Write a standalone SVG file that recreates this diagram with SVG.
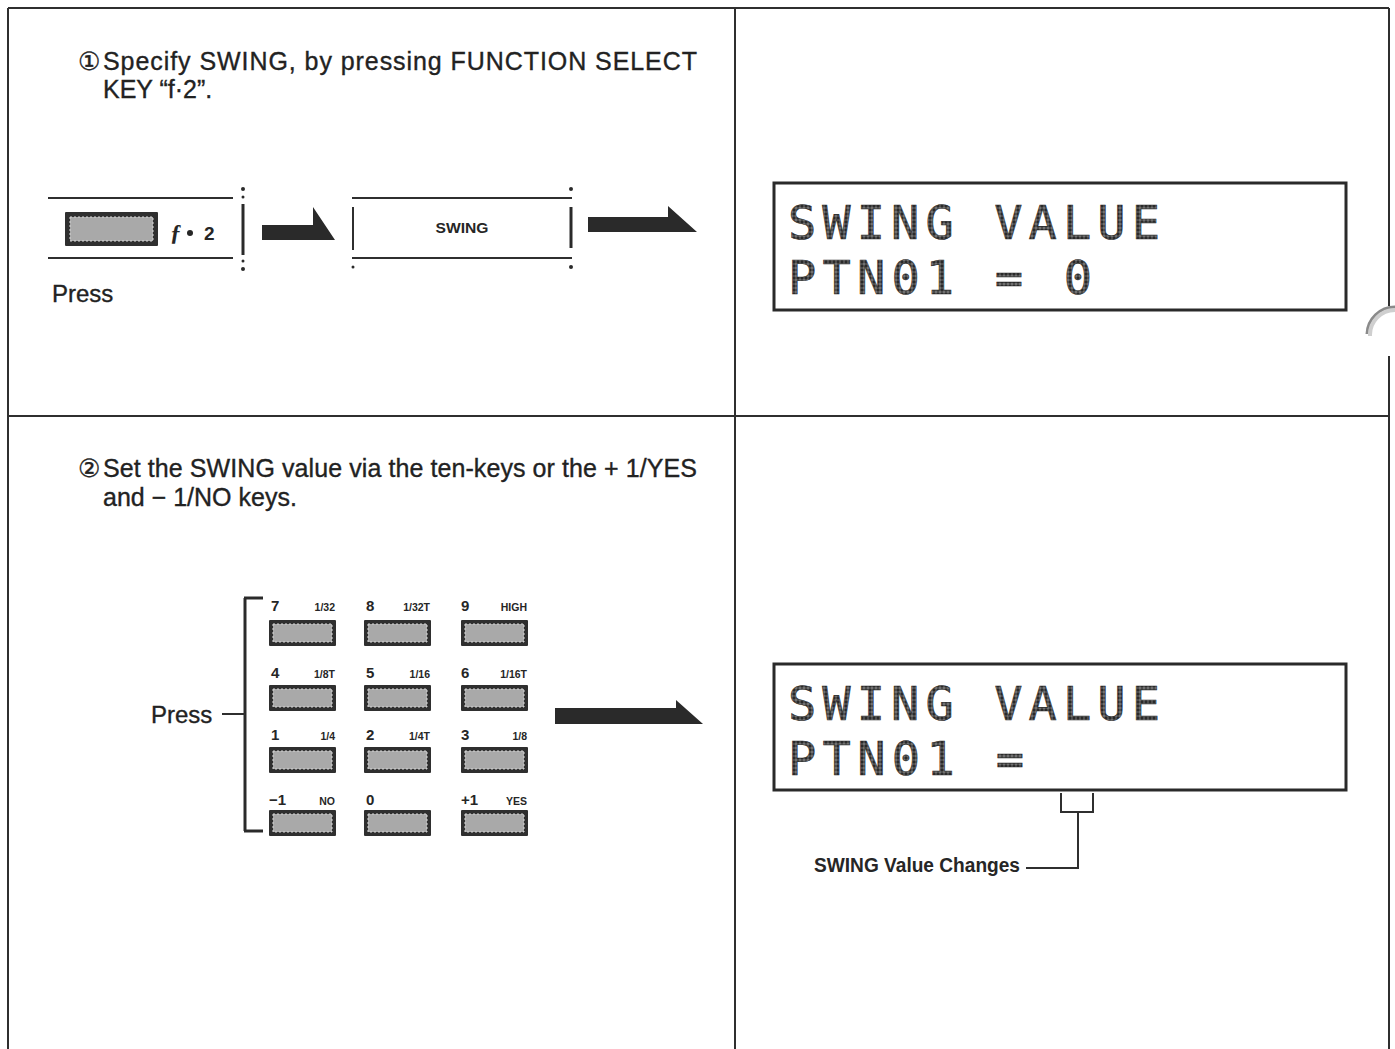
<svg xmlns="http://www.w3.org/2000/svg" width="1395" height="1049" viewBox="0 0 1395 1049">
<defs>
<style>
.frame{stroke:#2f2f2f;stroke-width:2;fill:none}
.ln{stroke:#2f2f2f;stroke-width:2;fill:none}
.heavy{stroke:#2a2a2a;stroke-width:3;fill:none}
.body{font-family:"Liberation Sans",Arial,sans-serif;font-size:25px;fill:#222;stroke:#222;stroke-width:0.35}
.lcd{font-family:"DejaVu Sans Mono","Liberation Mono",monospace;font-size:47px;fill:url(#dots);stroke:#2a2a2a;stroke-width:0.6}
.num{font-family:"Liberation Sans",Arial,sans-serif;font-size:15px;font-weight:bold;fill:#262626}
.sub{font-family:"Liberation Sans",Arial,sans-serif;font-size:10.5px;font-weight:bold;fill:#262626;text-anchor:end}
.arrow{fill:#2a2a2a}
.keyo{fill:#2f2f2f}
.keyi{fill:#a9a9a9;stroke:#d8d8d8;stroke-width:1;stroke-dasharray:2 2}
.lcdbox{fill:none;stroke:#2a2a2a;stroke-width:3}
</style>
<pattern id="dots" x="0" y="0" width="4" height="4" patternUnits="userSpaceOnUse">
<rect width="4" height="4" fill="#777"/>
<circle cx="2" cy="2" r="1.7" fill="#2a2a2a"/>
</pattern>
<g id="key">
<rect class="keyo" x="0" y="0" width="67" height="26" rx="1"/>
<rect class="keyi" x="4" y="4" width="59" height="18"/>
</g>
</defs>
<rect width="1395" height="1049" fill="#ffffff"/>

<g id="frame">
<line class="frame" x1="8" y1="8" x2="1389" y2="8"/>
<line class="frame" x1="8" y1="8" x2="8" y2="1049"/>
<line class="frame" x1="735" y1="8" x2="735" y2="1049"/>
<line class="frame" x1="8" y1="416" x2="1389" y2="416"/>
<line class="frame" x1="1389" y1="8" x2="1389" y2="306"/>
<line class="frame" x1="1389" y1="356" x2="1389" y2="1049"/>
<path d="M1395,307 A28,28 0 0 0 1367,334" fill="none" stroke="#8a8a8a" stroke-width="3"/>
<path d="M1395,310 A25,25 0 0 0 1370,336" fill="none" stroke="#cfcfcf" stroke-width="4"/>
</g>

<g id="step1-text">
<text class="body" x="78" y="70">①</text>
<text class="body" x="103" y="70" textLength="594" lengthAdjust="spacing">Specify SWING, by pressing FUNCTION SELECT</text>
<text class="body" x="103" y="98">KEY “f·2”.</text>
</g>

<g id="f2-key">
<line class="ln" x1="48" y1="198" x2="233" y2="198"/>
<line class="ln" x1="48" y1="258" x2="233" y2="258"/>
<rect class="keyo" x="65" y="212" width="93" height="34" rx="1"/>
<rect class="keyi" x="70" y="217" width="83" height="24"/>
<text x="170" y="240" font-family="Liberation Serif,serif" font-style="italic" font-weight="bold" font-size="23" fill="#262626">ƒ</text>
<circle cx="190" cy="233" r="3" fill="#262626"/>
<text x="204" y="240" font-family="Liberation Sans,Arial,sans-serif" font-weight="bold" font-size="19" fill="#262626">2</text>
<line class="heavy" x1="243" y1="204" x2="243" y2="255"/>
<circle cx="243" cy="189" r="2" fill="#2a2a2a"/>
<circle cx="243" cy="197" r="1.5" fill="#2a2a2a"/>
<circle cx="243" cy="261" r="1.5" fill="#2a2a2a"/>
<circle cx="243" cy="269" r="2" fill="#2a2a2a"/>
<text class="body" x="52" y="302" style="font-size:24px">Press</text>
</g>

<g id="swing-box">
<line class="ln" x1="352" y1="198" x2="572" y2="198"/>
<line class="ln" x1="352" y1="258" x2="572" y2="258"/>
<line class="ln" x1="353" y1="207" x2="353" y2="250"/>
<line class="heavy" x1="571" y1="207" x2="571" y2="248"/>
<circle cx="571" cy="189" r="2" fill="#2a2a2a"/>
<circle cx="353" cy="267" r="1.5" fill="#2a2a2a"/>
<circle cx="571" cy="267" r="2" fill="#2a2a2a"/>
<text x="462" y="233" text-anchor="middle" font-family="Liberation Sans,Arial,sans-serif" font-weight="bold" font-size="15" fill="#262626" textLength="53" lengthAdjust="spacingAndGlyphs">SWING</text>
</g>

<g id="lcd1">
<rect class="lcdbox" x="774" y="183" width="572" height="127"/>
<text class="lcd"><tspan x="788" y="239" textLength="372" lengthAdjust="spacing">SWING VALUE</tspan><tspan x="788" y="294" textLength="304" lengthAdjust="spacing">PTN01 = 0</tspan></text>
</g>

<g id="step2-text">
<text class="body" x="78" y="477">②</text>
<text class="body" x="103" y="477" textLength="594" lengthAdjust="spacing">Set the SWING value via the ten-keys or the + 1/YES</text>
<text class="body" x="103" y="506">and − 1/NO keys.</text>
</g>

<g id="keypad">
<line class="heavy" x1="245" y1="598" x2="245" y2="831"/>
<line class="heavy" x1="244" y1="598" x2="263" y2="598"/>
<line class="heavy" x1="244" y1="831" x2="263" y2="831"/>
<line class="ln" x1="222" y1="714" x2="245" y2="714"/>
<text class="body" x="151" y="723" style="font-size:24px">Press</text>

<text class="num" x="271" y="611">7</text><text class="sub" x="335" y="611">1/32</text>
<text class="num" x="366" y="611">8</text><text class="sub" x="430" y="611">1/32T</text>
<text class="num" x="461" y="611">9</text><text class="sub" x="527" y="611">HIGH</text>
<use href="#key" x="269" y="620"/><use href="#key" x="364" y="620"/><use href="#key" x="461" y="620"/>

<text class="num" x="271" y="678">4</text><text class="sub" x="335" y="678">1/8T</text>
<text class="num" x="366" y="678">5</text><text class="sub" x="430" y="678">1/16</text>
<text class="num" x="461" y="678">6</text><text class="sub" x="527" y="678">1/16T</text>
<use href="#key" x="269" y="685"/><use href="#key" x="364" y="685"/><use href="#key" x="461" y="685"/>

<text class="num" x="271" y="740">1</text><text class="sub" x="335" y="740">1/4</text>
<text class="num" x="366" y="740">2</text><text class="sub" x="430" y="740">1/4T</text>
<text class="num" x="461" y="740">3</text><text class="sub" x="527" y="740">1/8</text>
<use href="#key" x="269" y="747"/><use href="#key" x="364" y="747"/><use href="#key" x="461" y="747"/>

<text class="num" x="269" y="805">−1</text><text class="sub" x="335" y="805">NO</text>
<text class="num" x="366" y="805">0</text>
<text class="num" x="461" y="805">+1</text><text class="sub" x="527" y="805">YES</text>
<use href="#key" x="269" y="810"/><use href="#key" x="364" y="810"/><use href="#key" x="461" y="810"/>
</g>

<g id="lcd2">
<rect class="lcdbox" x="774" y="664" width="572" height="126"/>
<text class="lcd"><tspan x="788" y="720" textLength="372" lengthAdjust="spacing">SWING VALUE</tspan><tspan x="788" y="775" textLength="236" lengthAdjust="spacing">PTN01 =</tspan></text>
</g>

<g id="swing-value-label">
<text x="814" y="872" font-family="Liberation Sans Narrow,Liberation Sans,Arial,sans-serif" font-weight="bold" font-size="20" fill="#262626" textLength="206" lengthAdjust="spacingAndGlyphs">SWING Value Changes</text>
</g>

<g id="connectors">
<polygon class="arrow" points="262,225 313,225 313,207 335,240 262,240"/>
<polygon class="arrow" points="588,217 668,217 668,206 697,232 588,232"/>
<polygon class="arrow" points="555,708 676,708 676,700 703,724 555,724"/>
<polyline class="ln" points="1061,793 1061,812 1093,812 1093,793"/>
<polyline class="ln" points="1078,812 1078,868 1026,868"/>
</g>
</svg>
